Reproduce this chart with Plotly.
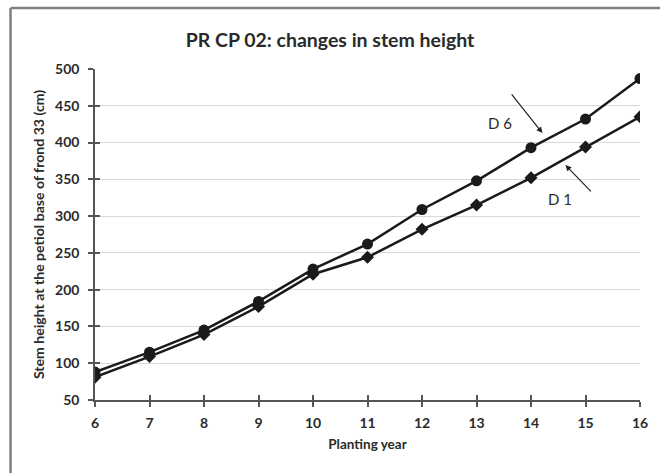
import plotly.graph_objects as go

years = [6, 7, 8, 9, 10, 11, 12, 13, 14, 15, 16]
d6 = [88, 115, 145, 184, 228, 262, 309, 348, 393, 432, 487]
d1 = [81, 109, 139, 177, 221, 244, 282, 315, 352, 394, 435]
y_ticks = [50, 100, 150, 200, 250, 300, 350, 400, 450, 500]

FONT = "Lato"
TXT = "#2a2a2a"
fig = go.Figure()
fig.add_trace(go.Scatter(x=years, y=d6, mode="lines+markers", name="D 6",
                         line=dict(color="#1a1a1a", width=2.5),
                         marker=dict(symbol="circle", size=11, color="#1a1a1a")))
fig.add_trace(go.Scatter(x=years, y=d1, mode="lines+markers", name="D 1",
                         line=dict(color="#1a1a1a", width=2.5),
                         marker=dict(symbol="diamond", size=10, color="#1a1a1a")))

axis_col = "#555555"
tickfont = dict(size=14, family=FONT, color=TXT, weight="bold")
fig.update_layout(
    width=660, height=473,
    margin=dict(l=95, r=17, t=69, b=73),
    paper_bgcolor="white", plot_bgcolor="white",
    showlegend=False,
    font=dict(family=FONT, color=TXT),
    title=dict(text="<b>PR CP 02: changes in stem height</b>", x=0.5, xanchor="center",
               y=1 - 40 / 473, yanchor="middle", font=dict(size=19.5, family=FONT, color=TXT)),
    xaxis=dict(range=[6, 16], tickvals=years, showgrid=False, zeroline=False,
               showline=True, linecolor=axis_col, linewidth=1.5,
               ticks="outside", ticklen=5, tickcolor=axis_col, tickwidth=1.5,
               tickfont=tickfont, ticklabelstandoff=4,
               title=dict(text="<b>Planting year</b>", font=dict(size=13.5, family=FONT, color=TXT), standoff=10)),
    yaxis=dict(range=[50, 500], tickvals=y_ticks, showgrid=True, gridcolor="#d9d9d9", gridwidth=1,
               zeroline=False, showline=True, linecolor=axis_col, linewidth=1.5,
               ticks="outside", ticklen=5, tickcolor=axis_col, tickwidth=1.5,
               tickfont=tickfont, ticklabelstandoff=6,
               title=dict(text="<b>Stem height at the petiol base of frond 33 (cm)</b>",
                          font=dict(size=14.1, family=FONT, color=TXT), standoff=7)),
    xaxis2=dict(range=[6, 16], tickvals=years, overlaying="x", showgrid=False, zeroline=False,
                ticks="inside", ticklen=5, tickcolor=axis_col, tickwidth=1.5, showticklabels=False,
                anchor="y"),
    yaxis2=dict(range=[50, 500], tickvals=y_ticks, overlaying="y", showgrid=False, zeroline=False,
                ticks="inside", ticklen=5, tickcolor=axis_col, tickwidth=1.5, showticklabels=False,
                anchor="x"),
)
# dummy trace to activate the overlay axes for crossing ticks
fig.add_trace(go.Scatter(x=[None], y=[None], xaxis="x2", yaxis="y2", showlegend=False, hoverinfo="skip"))

# outer frame (left and top edges visible)
fig.add_shape(type="line", xref="paper", yref="paper", x0=-0.155, x1=1.1, y0=1.184, y1=1.184,
              line=dict(color="#7f7f7f", width=2.5))
fig.add_shape(type="line", xref="paper", yref="paper", x0=-0.155, x1=-0.155, y0=1.184, y1=-0.3,
              line=dict(color="#7f7f7f", width=2.5))

# labels with arrows
fig.add_annotation(x=13.43, y=426.6, text="D 6", showarrow=False, font=dict(size=15, family=FONT, color=TXT))
fig.add_annotation(x=14.54, y=323.4, text="D 1", showarrow=False, font=dict(size=15, family=FONT, color=TXT))
fig.add_annotation(x=14.21, y=413, ax=-32, ay=-40, text="", showarrow=True, arrowhead=2,
                   arrowsize=1, arrowwidth=1.2, arrowcolor="#222222", standoff=0)
fig.add_annotation(x=14.63, y=369.6, ax=27, ay=28, text="", showarrow=True, arrowhead=2,
                   arrowsize=1, arrowwidth=1.2, arrowcolor="#222222", standoff=0)

fig.write_html("out.html", config={"displayModeBar": False},
               post_script="document.body.style.margin='0';document.body.style.overflow='hidden';")
